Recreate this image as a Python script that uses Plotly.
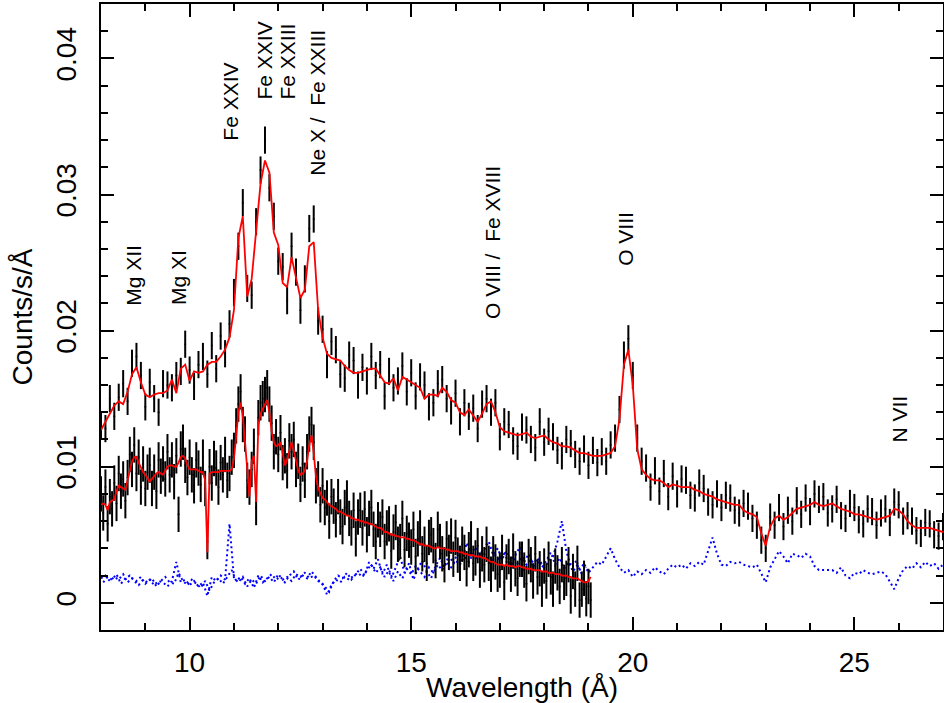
import plotly.graph_objects as go

# ---------------- data ----------------
# Upper spectrum: bins of 0.1 A from 8.0 to 27.0
upper_start, upper_step = 8.0, 0.1
upper_counts = [
    .0131, .0128, .0150, .0137, .0151, .0161, .0148, .0176, .0181, .0167,
    .0144, .0162, .0150, .0140, .0161, .0160, .0158, .0167, .0170, .0190,
    .0171, .0159, .0175, .0181, .0168, .0189, .0172, .0196, .0183, .0205,
    .0228, .0262, .0294, .0231, .0226, .0280, .0318, .0340, .0305, .0284,
    .0251, .0247, .0222, .0262, .0243, .0215, .0238, .0275, .0282, .0207,
    .0201, .0175, .0192, .0186, .0168, .0165, .0182, .0178, .0160, .0173,
    .0163, .0181, .0167, .0175, .0152, .0170, .0158, .0163, .0174, .0155,
    .0169, .0152, .0166, .0160, .0144, .0147, .0161, .0164, .0150, .0141,
    .0154, .0133, .0147, .0137, .0143, .0128, .0146, .0150, .0140, .0147,
    .0122, .0133, .0131, .0119, .0115, .0129, .0127, .0120, .0114, .0133,
    .0118, .0126, .0122, .0112, .0108, .0120, .0117, .0109, .0104, .0113,
    .0101, .0112, .0103, .0111, .0104, .0116, .0121, .0142, .0182, .0194,
    .0167, .0121, .0104, .0099, .0085, .0097, .0082, .0095, .0078, .0093,
    .0080, .0091, .0090, .0079, .0077, .0088, .0084, .0074, .0072, .0080,
    .0070, .0079, .0077, .0068, .0066, .0073, .0071, .0062, .0057, .0046,
    .0040, .0063, .0057, .0070, .0056, .0068, .0060, .0075, .0065, .0077,
    .0067, .0080, .0076, .0078, .0066, .0069, .0076, .0064, .0062, .0073,
    .0070, .0061, .0058, .0069, .0067, .0057, .0066, .0069, .0059, .0074,
    .0072, .0060, .0064, .0060, .0053, .0051, .0059, .0058, .0050, .0049,
    .0056,
]
upper_model = [
    .0127, .0133, .0138, .0145, .0148, .0146, .0155, .0168, .0173, .0162,
    .0153, .0151, .0153, .0154, .0154, .0156, .0164, .0154, .0172, .0175,
    .0163, .0170, .0169, .0170, .0175, .0177, .0177, .0181, .0186, .0195,
    .0215, .0268, .0284, .0225, .0238, .0272, .0308, .0325, .0316, .0272,
    .0263, .0235, .0232, .0254, .0238, .0224, .0230, .0262, .0265, .0215,
    .0195, .0183, .0180, .0179, .0178, .0174, .0171, .0169, .0169, .0170,
    .0171, .0172, .0172, .0167, .0162, .0161, .0165, .0156, .0166, .0164,
    .0162, .0160, .0158, .0150, .0153, .0153, .0152, .0158, .0155, .0149,
    .0147, .0140, .0138, .0142, .0137, .0133, .0139, .0146, .0148, .0140,
    .0129, .0126, .0125, .0124, .0123, .0124, .0125, .0122, .0121, .0122,
    .0123, .0120, .0118, .0117, .0115, .0115, .0114, .0112, .0110, .0110,
    .0109, .0108, .0108, .0108, .0109, .0110, .0115, .0135, .0175, .0186,
    .0160, .0113, .0098, .0094, .0091, .0090, .0090, .0088, .0085, .0087,
    .0086, .0085, .0085, .0085, .0083, .0082, .0080, .0079, .0078, .0076,
    .0075, .0074, .0073, .0072, .0072, .0068, .0066, .0065, .0063, .0051,
    .0042, .0056, .0062, .0064, .0061, .0063, .0066, .0069, .0070, .0071,
    .0072, .0074, .0072, .0071, .0072, .0073, .0071, .0069, .0068, .0067,
    .0065, .0065, .0064, .0063, .0062, .0061, .0062, .0063, .0064, .0069,
    .0068, .0065, .0060, .0057, .0055, .0055, .0055, .0055, .0054, .0053,
    .0052,
]
upper_err = 0.0010

# Lower spectrum: bins of 0.05 A from 8.0 to 19.05
lower_start, lower_step = 8.0, 0.05
lower_counts = [
    .0080, .0066, .0085, .0058, .0078, .0069, .0088, .0073, .0095, .0082,
    .0091, .0075, .0092, .0109, .0098, .0116, .0095, .0107, .0085, .0102,
    .0084, .0096, .0101, .0084, .0096, .0082, .0105, .0093, .0102, .0091,
    .0111, .0094, .0105, .0089, .0108, .0065, .0113, .0118, .0101, .0092,
    .0107, .0094, .0086, .0105, .0099, .0087, .0107, .0084, .0045, .0100,
    .0088, .0106, .0099, .0085, .0103, .0094, .0109, .0090, .0095, .0107,
    .0112, .0130, .0146, .0155, .0131, .0124, .0090, .0085, .0098, .0115,
    .0070, .0136, .0147, .0150, .0153, .0158, .0146, .0132, .0111, .0122,
    .0109, .0125, .0103, .0108, .0097, .0119, .0111, .0120, .0098, .0104,
    .0087, .0102, .0090, .0111, .0124, .0131, .0118, .0086, .0091, .0072,
    .0086, .0070, .0077, .0060, .0078, .0071, .0061, .0078, .0063, .0056,
    .0070, .0077, .0062, .0055, .0068, .0047, .0063, .0068, .0055, .0069,
    .0050, .0062, .0070, .0054, .0045, .0061, .0054, .0063, .0045, .0055,
    .0058, .0038, .0052, .0059, .0043, .0045, .0062, .0039, .0051, .0046,
    .0041, .0054, .0034, .0047, .0055, .0036, .0043, .0029, .0048, .0050,
    .0042, .0031, .0054, .0045, .0036, .0028, .0047, .0037, .0049, .0032,
    .0048, .0035, .0029, .0043, .0037, .0025, .0039, .0047, .0029, .0033,
    .0042, .0024, .0036, .0028, .0043, .0029, .0021, .0036, .0030, .0021,
    .0024, .0037, .0015, .0030, .0034, .0021, .0038, .0025, .0018, .0032,
    .0032, .0024, .0014, .0034, .0028, .0016, .0036, .0019, .0025, .0010,
    .0027, .0016, .0032, .0019, .0010, .0027, .0022, .0012, .0028, .0015,
    .0018, .0028, .0005, .0023, .0010, .0029, .0002, .0010, .0018, .0003,
    .0012, .0002,
]
lower_model = [
    .0072, .0073, .0072, .0068, .0074, .0075, .0076, .0082, .0086, .0085,
    .0084, .0083, .0090, .0098, .0104, .0107, .0107, .0103, .0099, .0096,
    .0094, .0091, .0089, .0091, .0093, .0095, .0096, .0095, .0094, .0097,
    .0100, .0101, .0101, .0100, .0100, .0103, .0107, .0108, .0106, .0101,
    .0098, .0098, .0098, .0098, .0097, .0096, .0096, .0090, .0037, .0095,
    .0096, .0096, .0096, .0096, .0097, .0097, .0097, .0097, .0097, .0098,
    .0106, .0122, .0140, .0147, .0137, .0118, .0097, .0078, .0104, .0108,
    .0074, .0130, .0139, .0142, .0145, .0149, .0140, .0126, .0118, .0115,
    .0116, .0118, .0110, .0101, .0105, .0112, .0118, .0112, .0105, .0097,
    .0094, .0095, .0097, .0104, .0116, .0123, .0110, .0093, .0084, .0080,
    .0077, .0076, .0074, .0072, .0071, .0070, .0069, .0067, .0067, .0066,
    .0065, .0064, .0064, .0062, .0062, .0061, .0061, .0060, .0060, .0059,
    .0059, .0058, .0058, .0057, .0056, .0055, .0055, .0054, .0052, .0052,
    .0051, .0050, .0050, .0049, .0049, .0048, .0048, .0048, .0047, .0047,
    .0046, .0046, .0045, .0044, .0043, .0043, .0042, .0042, .0042, .0041,
    .0040, .0040, .0041, .0040, .0040, .0040, .0039, .0039, .0038, .0038,
    .0038, .0038, .0037, .0037, .0036, .0036, .0035, .0035, .0035, .0034,
    .0034, .0034, .0033, .0033, .0032, .0031, .0030, .0030, .0029, .0028,
    .0028, .0028, .0027, .0028, .0027, .0027, .0027, .0026, .0027, .0027,
    .0026, .0026, .0025, .0025, .0025, .0024, .0024, .0024, .0024, .0023,
    .0023, .0023, .0022, .0022, .0022, .0021, .0021, .0021, .0020, .0020,
    .0020, .0019, .0019, .0018, .0018, .0018, .0017, .0016, .0015, .0015,
    .0016, .0019,
]
lower_err = 0.0013

# Backgrounds (blue dotted)
bg_upper_start, bg_upper_step = 8.0, 0.1
bg_upper = [
    .0018, .0020, .0016, .0019, .0017, .0021, .0015, .0018, .0016, .0019,
    .0014, .0017, .0013, .0016, .0015, .0012, .0016, .0030, .0015, .0017,
    .0013, .0016, .0012, .0015, .0005, .0019, .0016, .0020, .0017, .0058,
    .0018, .0015, .0019, .0012, .0017, .0014, .0020, .0016, .0019, .0015,
    .0021, .0017, .0019, .0016, .0021, .0019, .0022, .0018, .0020, .0016,
    .0014, .0006, .0013, .0017, .0015, .0019, .0017, .0020, .0022, .0019,
    .0024, .0028, .0022, .0026, .0019, .0024, .0016, .0023, .0018, .0025,
    .0021, .0027, .0023, .0019, .0026, .0022, .0028, .0024, .0030, .0026,
    .0031, .0028, .0034, .0030, .0036, .0032, .0038, .0033, .0029, .0035,
    .0031, .0036, .0030, .0034, .0029, .0033, .0028, .0032, .0027, .0031,
    .0026, .0030, .0034, .0045, .0060, .0038, .0027, .0031, .0024, .0029,
    .0022, .0026, .0030, .0028, .0034, .0040, .0032, .0026, .0022, .0024,
    .0019, .0023, .0021, .0024, .0022, .0026, .0023, .0021, .0025, .0028,
    .0026, .0028, .0025, .0029, .0027, .0030, .0028, .0038, .0048, .0036,
    .0028, .0027, .0030, .0029, .0030, .0028, .0027, .0026, .0028, .0022,
    .0015, .0026, .0032, .0038, .0034, .0029, .0036, .0035, .0033, .0036,
    .0034, .0027, .0024, .0024, .0024, .0024, .0022, .0026, .0020, .0018,
    .0022, .0021, .0024, .0022, .0021, .0022, .0023, .0021, .0015, .0010,
    .0018, .0024, .0027, .0025, .0029, .0026, .0030, .0027, .0029, .0025,
    .0028,
]
bg_lower_start, bg_lower_step = 8.05, 0.1
bg_lower = [
    .0015, .0019, .0017, .0021, .0014, .0018, .0020, .0016, .0013, .0017,
    .0015, .0018, .0012, .0016, .0019, .0015, .0014, .0022, .0016, .0013,
    .0017, .0014, .0011, .0016, .0009, .0015, .0018, .0014, .0019, .0024,
    .0016, .0019, .0014, .0018, .0011, .0020, .0015, .0018, .0021, .0017,
    .0019, .0015, .0020, .0023, .0017, .0020, .0018, .0023, .0019, .0015,
    .0012, .0008, .0016, .0020, .0018, .0022, .0017, .0021, .0025, .0020,
    .0030, .0025, .0032, .0021, .0028, .0018, .0026, .0034, .0022, .0029,
    .0017, .0025, .0031, .0023, .0018, .0027, .0033, .0026, .0035, .0029,
    .0037, .0031, .0044, .0036, .0041, .0033, .0039, .0045, .0035, .0040,
    .0032, .0038, .0027, .0035, .0041, .0030, .0036, .0028, .0033, .0026,
    .0031, .0037, .0028, .0033, .0025, .0030, .0023, .0028, .0021, .0026,
]

# Line identifications
line_labels = ["Mg XII", "Mg XI", "Fe XXIV", "Fe XXIV", "Fe XXIII",
               "Ne X /\u00a0\u00a0Fe XXIII", "O VIII /\u00a0\u00a0Fe XVIII",
               "O VIII", "N VII"]
line_wl = [8.74, 9.76, 10.93, 11.69, 12.21, 12.88, 16.83, 19.82, 26.01]
line_label_y = [0.0217, 0.0217, 0.0338, 0.0368, 0.0368, 0.03125, 0.0207,
                0.0246, 0.0116]

x_ticks = [10, 15, 20, 25]
y_ticks = [0, 0.01, 0.02, 0.03, 0.04]
y_tick_text = ["0", "0.01", "0.02", "0.03", "0.04"]


def grid(start, step, n):
    return [round(start + step * i, 3) for i in range(n)]


upper_wl = grid(upper_start, upper_step, len(upper_counts))
upper_model_wl = grid(upper_start, upper_step, len(upper_model))
lower_wl = grid(lower_start, lower_step, len(lower_counts))
lower_model_wl = grid(lower_start, lower_step, len(lower_model))
bg_upper_wl = grid(bg_upper_start, bg_upper_step, len(bg_upper))
bg_lower_wl = grid(bg_lower_start, bg_lower_step, len(bg_lower))

# ---------------- figure ----------------
FONT = "Liberation Sans, Arial, Helvetica, sans-serif"
fig = go.Figure()

for wl, bg in [(bg_lower_wl, bg_lower), (bg_upper_wl, bg_upper)]:
    fig.add_trace(go.Scatter(x=wl, y=bg, mode="lines",
                             line=dict(color="#0000ff", width=2,
                                       dash="2px,3px"),
                             hoverinfo="skip"))

for wl, cts, err, th in [(upper_wl, upper_counts, upper_err, 2.0),
                         (lower_wl, lower_counts, lower_err, 2.0)]:
    fig.add_trace(go.Scatter(
        x=wl, y=cts, mode="markers",
        marker=dict(size=2, color="black"),
        error_y=dict(type="constant", value=err, color="black",
                     thickness=th, width=0),
    ))

for wl, mod in [(upper_model_wl, upper_model), (lower_model_wl, lower_model)]:
    fig.add_trace(go.Scatter(x=wl, y=mod, mode="lines",
                             line=dict(color="#ff0000", width=1.8)))

for lab, wl, yy in zip(line_labels, line_wl, line_label_y):
    fig.add_annotation(x=wl, y=yy, xref="x", yref="y", text=lab,
                       textangle=-90, showarrow=False,
                       xanchor="center", yanchor="bottom",
                       font=dict(family=FONT, size=21, color="black"))

axis_common = dict(showline=True, linecolor="black", linewidth=2,
                   mirror="ticks", ticks="inside", ticklen=13,
                   tickwidth=1.5, tickcolor="black", showgrid=False,
                   zeroline=False, automargin=False,
                   tickfont=dict(family=FONT, size=28, color="black"))

fig.update_xaxes(range=[8, 27], tickvals=x_ticks,
                 title=dict(text="Wavelength (Å)",
                            font=dict(family=FONT, size=28, color="black"),
                            standoff=2),
                 ticklabelstandoff=6,
                 minor=dict(dtick=1, ticklen=7, ticks="inside",
                            tickcolor="black", tickwidth=1.5),
                 **axis_common)
fig.update_yaxes(range=[-0.002, 0.044], tickvals=y_ticks,
                 ticktext=y_tick_text, tickangle=-90,
                 title=dict(text="Counts/s/Å",
                            font=dict(family=FONT, size=28, color="black"),
                            standoff=10),
                 ticklabelstandoff=12,
                 minor=dict(dtick=0.002, ticklen=7, ticks="inside",
                            tickcolor="black", tickwidth=1.5),
                 **axis_common)

fig.update_layout(width=944, height=703,
                  margin=dict(l=101, r=1, t=4, b=73, autoexpand=False),
                  paper_bgcolor="white", plot_bgcolor="white",
                  showlegend=False)

fig.write_html("out.html",
               config={"displayModeBar": False},
               post_script="document.body.style.margin='0';"
                           "document.body.style.padding='0';")
